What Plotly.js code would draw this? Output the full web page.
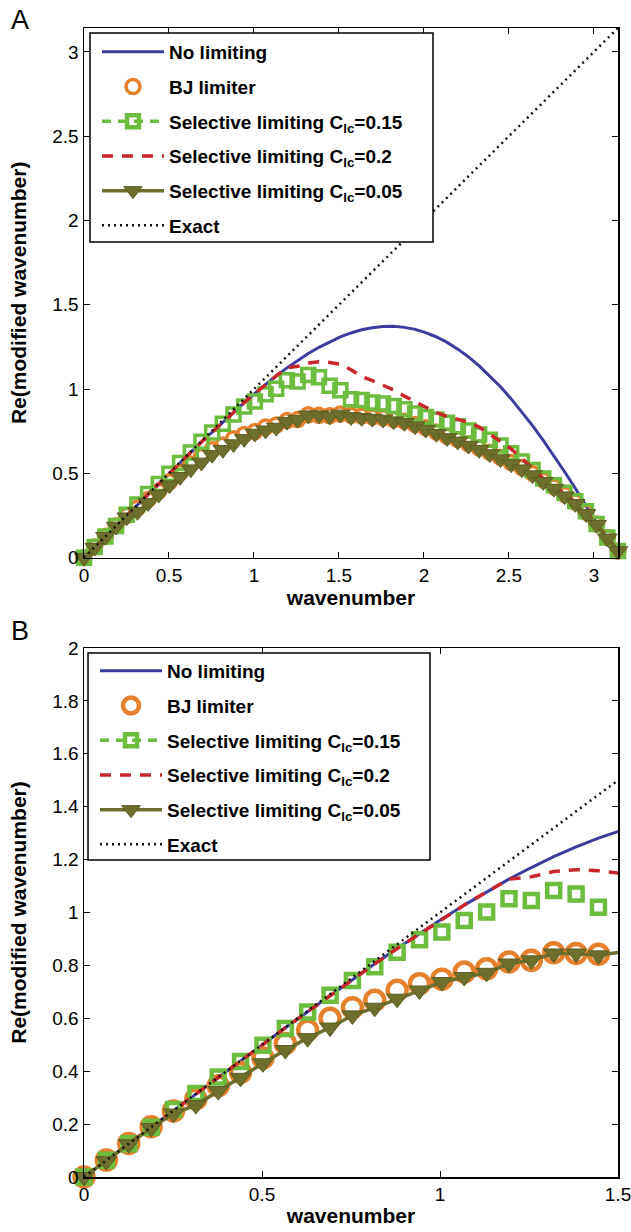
<!DOCTYPE html>
<html>
<head>
<meta charset="utf-8">
<script src="https://cdn.plot.ly/plotly-3.0.1.min.js"></script>
<style>html,body{margin:0;padding:0;background:#fff;}#chart{width:631px;height:1232px;}</style>
</head>
<body>
<div id="chart"></div>
<script>
// wavenumber samples
const wavenumber = [0, 0.0628, 0.1257, 0.1885, 0.2513, 0.3142, 0.3770, 0.4398, 0.5027, 0.5655,
  0.6283, 0.6912, 0.7540, 0.8168, 0.8796, 0.9425, 1.0053, 1.0681, 1.1310, 1.1938,
  1.2566, 1.3195, 1.3823, 1.4451, 1.5080, 1.5708, 1.6336, 1.6965, 1.7593, 1.8221,
  1.8850, 1.9478, 2.0106, 2.0735, 2.1363, 2.1991, 2.2619, 2.3248, 2.3876, 2.4504,
  2.5133, 2.5761, 2.6389, 2.7018, 2.7646, 2.8274, 2.8903, 2.9531, 3.0159, 3.0788, 3.1416];

const noLimiting = [0, 0.063, 0.126, 0.188, 0.251, 0.314, 0.377, 0.439, 0.502, 0.564,
  0.625, 0.686, 0.746, 0.806, 0.864, 0.920, 0.975, 1.028, 1.078, 1.126,
  1.170, 1.211, 1.248, 1.281, 1.310, 1.333, 1.352, 1.364, 1.371, 1.372,
  1.366, 1.354, 1.335, 1.309, 1.277, 1.237, 1.191, 1.138, 1.079, 1.014,
  0.942, 0.865, 0.783, 0.696, 0.605, 0.510, 0.412, 0.311, 0.209, 0.105, 0];

const bjLimiter = [0, 0.064, 0.127, 0.190, 0.250, 0.295, 0.345, 0.395, 0.450, 0.505,
  0.555, 0.600, 0.640, 0.668, 0.706, 0.731, 0.748, 0.775, 0.787, 0.813,
  0.819, 0.848, 0.845, 0.842, 0.852, 0.845, 0.840, 0.835, 0.830, 0.820,
  0.810, 0.790, 0.770, 0.745, 0.720, 0.700, 0.675, 0.650, 0.625, 0.595,
  0.565, 0.535, 0.500, 0.460, 0.420, 0.375, 0.330, 0.270, 0.200, 0.120, 0.040];

const selective015 = [0, 0.063, 0.126, 0.188, 0.255, 0.316, 0.378, 0.437, 0.498, 0.561,
  0.624, 0.687, 0.743, 0.795, 0.850, 0.897, 0.926, 0.970, 1.002, 1.052,
  1.045, 1.083, 1.070, 1.020, 0.993, 0.940, 0.935, 0.920, 0.915, 0.900,
  0.880, 0.855, 0.835, 0.820, 0.800, 0.780, 0.755, 0.730, 0.700, 0.665,
  0.620, 0.570, 0.520, 0.470, 0.430, 0.385, 0.335, 0.275, 0.200, 0.120, 0.040];

const selective02 = [0, 0.063, 0.126, 0.188, 0.251, 0.314, 0.377, 0.439, 0.502, 0.564,
  0.625, 0.686, 0.746, 0.806, 0.864, 0.920, 0.975, 1.028, 1.078, 1.126,
  1.135, 1.155, 1.162, 1.158, 1.148, 1.115, 1.075, 1.050, 1.025, 0.995,
  0.958, 0.925, 0.890, 0.860, 0.838, 0.820, 0.803, 0.775, 0.735, 0.690,
  0.645, 0.590, 0.530, 0.470, 0.430, 0.380, 0.330, 0.270, 0.200, 0.120, 0.040];

const selective005 = [0, 0.060, 0.124, 0.185, 0.240, 0.272, 0.325, 0.375, 0.430, 0.480,
  0.525, 0.565, 0.611, 0.640, 0.674, 0.705, 0.737, 0.756, 0.772, 0.807,
  0.819, 0.845, 0.845, 0.838, 0.850, 0.835, 0.830, 0.825, 0.820, 0.810,
  0.800, 0.780, 0.760, 0.735, 0.710, 0.690, 0.665, 0.640, 0.615, 0.585,
  0.555, 0.525, 0.490, 0.450, 0.410, 0.365, 0.320, 0.260, 0.195, 0.115, 0.040];

const exactK = [0, 3.1416];
const exactV = [0, 3.1416];

const nZoom = 25; // samples shown in panel B (wavenumber up to ~1.5)

const names = ['No limiting', 'BJ limiter', 'Selective limiting C<sub>lc</sub>=0.15',
  'Selective limiting C<sub>lc</sub>=0.2', 'Selective limiting C<sub>lc</sub>=0.05', 'Exact'];

const BLUE = '#3a3d9e', ORANGE = '#e5802c', GREEN = '#6cbc3e', RED = '#c8262a', OLIVE = '#6e6f2c';

function panel(xa, ya, leg, n, s) {
  const x = wavenumber.slice(0, n);
  const g = leg;
  return [
    {x: wavenumber, y: noLimiting, mode: 'lines', name: names[0], xaxis: xa, yaxis: ya, legend: leg, legendgroup: g + '1',
     line: {color: BLUE, width: 3}},
    {x: x, y: bjLimiter.slice(0, n), mode: 'markers', name: names[1], xaxis: xa, yaxis: ya, legend: leg, legendgroup: g + '2',
     cliponaxis: false,
     marker: {symbol: 'circle-open', size: s.circ, color: ORANGE, line: {color: ORANGE, width: s.circW}}},
    {x: [null], y: [null], mode: 'lines+markers', name: names[2], xaxis: xa, yaxis: ya, legend: leg, legendgroup: g + '3',
     line: {color: GREEN, width: 3.5, dash: '9px,7px'},
     marker: {symbol: 'square-open', size: 12, color: GREEN, line: {color: GREEN, width: 4.5}}},
    {x: x, y: selective015.slice(0, n), mode: 'markers', name: names[2], xaxis: xa, yaxis: ya, showlegend: false,
     cliponaxis: false,
     marker: {symbol: 'square-open', size: s.sq, color: GREEN, line: {color: GREEN, width: s.sqW}}},
    {x: wavenumber, y: selective02, mode: 'lines', name: names[3], xaxis: xa, yaxis: ya, legend: leg, legendgroup: g + '4',
     line: {color: RED, width: 3.5, dash: '11px,9px'}},
    {x: x, y: selective005.slice(0, n), mode: 'lines+markers', name: names[4], xaxis: xa, yaxis: ya, legend: leg, legendgroup: g + '5',
     cliponaxis: false,
     line: {color: OLIVE, width: 3.5},
     marker: {symbol: 'triangle-down', size: s.tri, color: OLIVE, line: {color: '#5c5d22', width: 1}}},
    {x: exactK, y: exactV, mode: 'lines', name: names[5], xaxis: xa, yaxis: ya, legend: leg, legendgroup: g + '6',
     line: {color: '#111', width: 2.5, dash: '2px,4px'}}
  ];
}

const data = [].concat(
  panel('x', 'y', 'legend', wavenumber.length, {circ: 14, circW: 3.5, sq: 13, sqW: 3.5, tri: 17}),
  panel('x2', 'y2', 'legend2', nZoom, {circ: 19, circW: 4.5, sq: 13, sqW: 4.5, tri: 18})
);

const FONT = 'Liberation Sans, Arial, Helvetica, sans-serif';
function axis(extra) {
  return Object.assign({
    ticks: 'inside', ticklen: 6, tickwidth: 1, tickcolor: '#000',
    showline: true, linecolor: '#000', linewidth: 1.5, mirror: 'ticks',
    showgrid: false, zeroline: false, automargin: false, ticklabeloverflow: 'allow',
    tickfont: {family: FONT, size: 19, color: '#000'}
  }, extra);
}
const titleFont = {family: FONT, size: 21, color: '#000', weight: 'bold'};
const H = 1149, B0 = 1177, L0 = 84, PW = 534;
const px = v => (v - L0) / PW;
const py = v => (B0 - v) / H;

const legendBase = {
  xanchor: 'left', yanchor: 'top', bgcolor: 'rgba(0,0,0,0)', borderwidth: 0,
  font: {family: FONT, size: 19, color: '#000', weight: 'bold'},
  itemwidth: 62, traceorder: 'grouped', tracegroupgap: 7
};

const layout = {
  width: 631, height: 1232,
  margin: {l: 84, r: 13, t: 28, b: 55},
  paper_bgcolor: '#fff', plot_bgcolor: '#fff',
  font: {family: FONT, color: '#000'},
  showlegend: true,
  xaxis: axis({domain: [0, 1], anchor: 'y', range: [0, 3.1416], tickvals: [0, 0.5, 1, 1.5, 2, 2.5, 3],
    title: {text: 'wavenumber', font: titleFont, standoff: 4}}),
  yaxis: axis({domain: [py(557.7), 1], anchor: 'x', range: [0, 3.1416], tickvals: [0, 0.5, 1, 1.5, 2, 2.5, 3],
    title: {text: 'Re(modified wavenumber)', font: titleFont, standoff: 20}}),
  xaxis2: axis({domain: [0, 1], anchor: 'y2', range: [0, 1.5], tickvals: [0, 0.5, 1, 1.5],
    title: {text: 'wavenumber', font: titleFont, standoff: 4}}),
  yaxis2: axis({domain: [0, py(648)], anchor: 'x2', range: [0, 2], tickvals: [0, 0.2, 0.4, 0.6, 0.8, 1, 1.2, 1.4, 1.6, 1.8, 2],
    title: {text: 'Re(modified wavenumber)', font: titleFont, standoff: 20}}),
  legend: Object.assign({x: px(97), y: py(33)}, legendBase),
  legend2: Object.assign({x: px(95), y: py(652)}, legendBase),
  shapes: [
    {type: 'rect', xref: 'paper', yref: 'paper', x0: px(90), x1: px(433), y0: py(242), y1: py(33),
     fillcolor: '#fff', line: {color: '#000', width: 1.5}, layer: 'above'},
    {type: 'rect', xref: 'paper', yref: 'paper', x0: px(88), x1: px(430), y0: py(860), y1: py(653),
     fillcolor: '#fff', line: {color: '#000', width: 1.5}, layer: 'above'}
  ],
  annotations: [
    {text: 'A', xref: 'paper', yref: 'paper', x: px(20), y: py(20), xanchor: 'center', yanchor: 'middle',
     showarrow: false, font: {family: FONT, size: 27, color: '#000'}},
    {text: 'B', xref: 'paper', yref: 'paper', x: px(20), y: py(631), xanchor: 'center', yanchor: 'middle',
     showarrow: false, font: {family: FONT, size: 27, color: '#000'}}
  ]
};

Plotly.newPlot('chart', data, layout, {staticPlot: true, displayModeBar: false});
</script>
</body>
</html>
